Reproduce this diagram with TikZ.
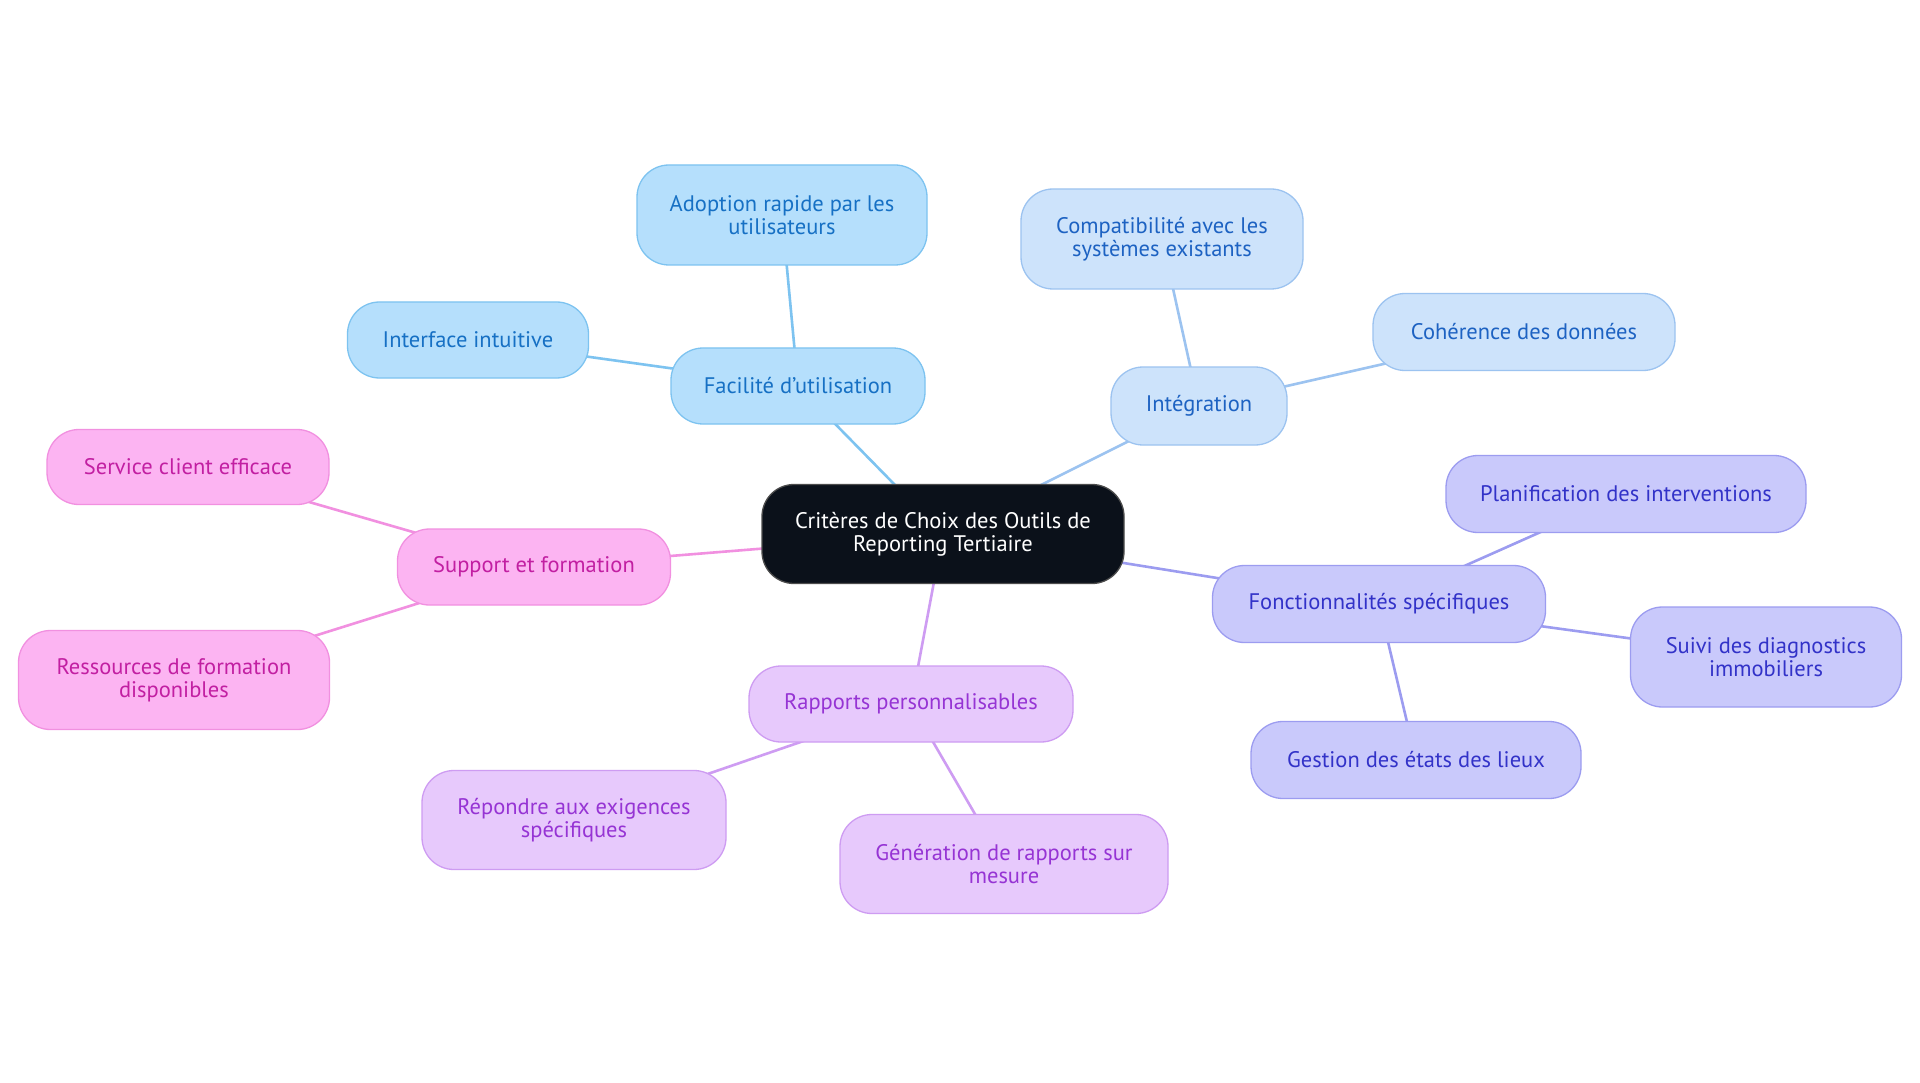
\documentclass[tikz,border=0pt]{standalone}
\usepackage{fontspec}
\setmainfont{PT Sans}
\usetikzlibrary{backgrounds}
\definecolor{aFill}{HTML}{B5DFFC}\definecolor{aDraw}{HTML}{7DC3F0}\definecolor{aText}{HTML}{1670C4}
\definecolor{bFill}{HTML}{CDE3FB}\definecolor{bDraw}{HTML}{9CC3F0}\definecolor{bText}{HTML}{1D62C2}
\definecolor{cFill}{HTML}{C9C9FB}\definecolor{cDraw}{HTML}{9C9CF0}\definecolor{cText}{HTML}{3232C8}
\definecolor{dFill}{HTML}{E7C9FC}\definecolor{dDraw}{HTML}{CE9CF2}\definecolor{dText}{HTML}{9634D4}
\definecolor{eFill}{HTML}{FCB4F2}\definecolor{eDraw}{HTML}{F190E0}\definecolor{eText}{HTML}{C21FA2}
\definecolor{rootFill}{HTML}{0B111A}
\begin{document}
\begin{tikzpicture}[x=1pt,y=-1pt,
  mbox/.style={rounded corners=32pt, line width=1.3pt, align=center,
    font=\fontsize{22.5}{23}\selectfont, inner sep=0pt},
  sz/.style 2 args={minimum width=#1pt, minimum height=#2pt},
  grpA/.style={mbox, fill=aFill, draw=aDraw, text=aText},
  grpB/.style={mbox, fill=bFill, draw=bDraw, text=bText},
  grpC/.style={mbox, fill=cFill, draw=cDraw, text=cText},
  grpD/.style={mbox, fill=dFill, draw=dDraw, text=dText},
  grpE/.style={mbox, fill=eFill, draw=eDraw, text=eText},
  edge/.style={line width=2.6pt}
]
\useasboundingbox (0,0) rectangle (1920,1083);

\node[mbox, fill=rootFill, draw=black!70, text=white, sz={362}{99}] (root) at (943,534) {Critères de Choix des Outils de\\Reporting Tertiaire};

\node[grpA, sz={254}{76}] (fac) at (798,386) {Facilité d'utilisation};
\node[grpA, sz={290}{100}] (adop) at (782,215) {Adoption rapide par les\\utilisateurs};
\node[grpA, sz={241}{76}] (intf) at (468,340) {Interface intuitive};

\node[grpB, sz={176}{78}] (integ) at (1199,406) {Intégration};
\node[grpB, sz={282}{100}] (compat) at (1162,239) {Compatibilité avec les\\systèmes existants};
\node[grpB, sz={302}{77}] (coher) at (1524,332) {Cohérence des données};

\node[grpC, sz={333}{77}] (fonc) at (1379,604) {Fonctionnalités spécifiques};
\node[grpC, sz={360}{77}] (plan) at (1626,494) {Planification des interventions};
\node[grpC, sz={271}{100}] (suivi) at (1766,657) {Suivi des diagnostics\\immobiliers};
\node[grpC, sz={330}{77}] (gest) at (1416,760) {Gestion des états des lieux};

\node[grpD, sz={324}{76}] (rapp) at (911,704) {Rapports personnalisables};
\node[grpD, sz={304}{99}] (repo) at (574,820) {Répondre aux exigences\\spécifiques};
\node[grpD, sz={328}{99}] (gene) at (1004,864) {Génération de rapports sur\\mesure};

\node[grpE, sz={273}{76}] (supp) at (534,567) {Support et formation};
\node[grpE, sz={282}{75}] (serv) at (188,467) {Service client efficace};
\node[grpE, sz={311}{99}] (ress) at (174,680) {Ressources de formation\\disponibles};

\begin{scope}[on background layer]
\fill[white] (0,0) rectangle (1920,1083);
\draw[edge, aDraw] (root.center) -- (fac.center);
\draw[edge, aDraw] (fac.center) -- (adop.center);
\draw[edge, aDraw] (fac.center) -- (intf.center);
\draw[edge, bDraw] (root.center) -- (integ.center);
\draw[edge, bDraw] (integ.center) -- (compat.center);
\draw[edge, bDraw] (integ.center) -- (coher.center);
\draw[edge, cDraw] (root.center) -- (fonc.center);
\draw[edge, cDraw] (fonc.center) -- (plan.center);
\draw[edge, cDraw] (fonc.center) -- (suivi.center);
\draw[edge, cDraw] (fonc.center) -- (gest.center);
\draw[edge, dDraw] (root.center) -- (rapp.center);
\draw[edge, dDraw] (rapp.center) -- (repo.center);
\draw[edge, dDraw] (rapp.center) -- (gene.center);
\draw[edge, eDraw] (root.center) -- (supp.center);
\draw[edge, eDraw] (supp.center) -- (serv.center);
\draw[edge, eDraw] (supp.center) -- (ress.center);
\end{scope}
\end{tikzpicture}
\end{document}
